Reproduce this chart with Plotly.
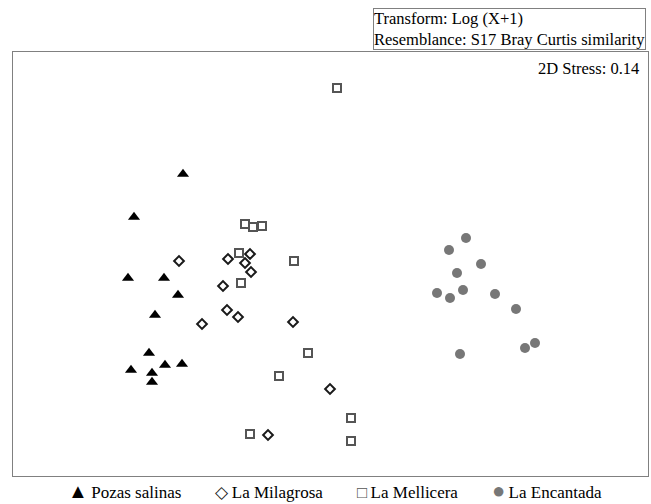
import plotly.graph_objects as go

# nMDS coordinates (arbitrary units)
pozas_x = [-1.47, -1.96, -2.02, -1.66, -1.52, -1.75, -1.81, -1.99, -1.78, -1.65, -1.48, -1.78]
pozas_y = [0.96, 0.53, -0.08, -0.08, -0.25, -0.45, -0.83, -1.00, -1.03, -0.95, -0.94, -1.12]

milag_x = [-1.51, -1.02, -0.80, -0.85, -0.79, -1.07, -1.03, -0.92, -1.28, -0.37, 0.00, -0.62]
milag_y = [0.09, 0.11, 0.16, 0.07, -0.02, -0.16, -0.40, -0.47, -0.54, -0.52, -1.19, -1.65]

mell_x = [-0.85, -0.77, -0.68, -0.91, -0.36, -0.89, -0.22, -0.51, 0.21, 0.21, -0.80, 0.07]
mell_y = [0.46, 0.43, 0.44, 0.17, 0.09, -0.13, -0.83, -1.06, -1.48, -1.71, -1.64, 1.82]

enc_x = [1.36, 1.19, 1.51, 1.27, 1.07, 1.20, 1.33, 1.65, 1.86, 1.30, 1.95, 2.05]
enc_y = [0.32, 0.20, 0.06, -0.03, -0.23, -0.28, -0.20, -0.24, -0.39, -0.84, -0.78, -0.73]

names = ["Pozas salinas", "La Milagrosa", "La Mellicera", "La Encantada"]
legend_glyphs = ["▲", "◇", "□", "●"]
legend_glyph_sizes = [20, 17, 17, 22]
legend_colors = ["#000000", "#1a1a1a", "#555555", "#777777"]
stress_text = "2D Stress: 0.14"
info_text = "Transform: Log (X+1)<br>Resemblance: S17 Bray Curtis similarity"

FONT = "Liberation Serif"

fig = go.Figure()
fig.add_trace(go.Scatter(x=pozas_x, y=pozas_y, mode="markers", name=names[0],
                         marker=dict(symbol="triangle-up", size=10.5, color=legend_colors[0],
                                     line=dict(width=0))))
fig.add_trace(go.Scatter(x=milag_x, y=milag_y, mode="markers", name=names[1],
                         marker=dict(symbol="diamond-open", size=7.5, color=legend_colors[1],
                                     line=dict(width=2, color=legend_colors[1]))))
fig.add_trace(go.Scatter(x=mell_x, y=mell_y, mode="markers", name=names[2],
                         marker=dict(symbol="square-open", size=8, color=legend_colors[2],
                                     line=dict(width=2, color=legend_colors[2]))))
fig.add_trace(go.Scatter(x=enc_x, y=enc_y, mode="markers", name=names[3],
                         marker=dict(symbol="circle", size=10, color=legend_colors[3],
                                     line=dict(width=0))))

axis_common = dict(showgrid=False, zeroline=False, showticklabels=False, ticks="",
                   showline=True, mirror=True, linecolor="#808080", linewidth=1)

legend_parts = []
for g, s, c, n in zip(legend_glyphs, legend_glyph_sizes, legend_colors, names):
    legend_parts.append(f"<span style='color:{c};font-size:{s}px'>{g}</span>&#8201;{n}")
legend_text = ("&nbsp;" * 8).join(legend_parts)

fig.update_layout(
    width=651, height=504,
    margin=dict(l=13, r=3, t=52, b=28),
    paper_bgcolor="white", plot_bgcolor="white",
    font=dict(family=FONT, color="#000000"),
    xaxis=dict(range=[-3.17, 3.18], **axis_common),
    yaxis=dict(range=[-2.06, 2.18], **axis_common),
    showlegend=False,
    annotations=[
        dict(text=stress_text, xref="paper", yref="paper", x=1, y=1,
             xanchor="right", yanchor="top", xshift=-7, yshift=-5,
             showarrow=False, font=dict(size=16.5, family=FONT)),
        dict(text=info_text, xref="paper", yref="paper", x=1, y=1,
             xanchor="right", yanchor="bottom", xshift=-2, yshift=2,
             showarrow=False, align="left", bordercolor="#808080", borderwidth=1,
             borderpad=0, font=dict(size=16.5, family=FONT)),
        dict(text=legend_text, xref="paper", yref="paper", x=0.507, y=-0.034,
             xanchor="center", yanchor="middle",
             showarrow=False, font=dict(size=17, family=FONT)),
    ],
)

fig.write_html("out.html")
